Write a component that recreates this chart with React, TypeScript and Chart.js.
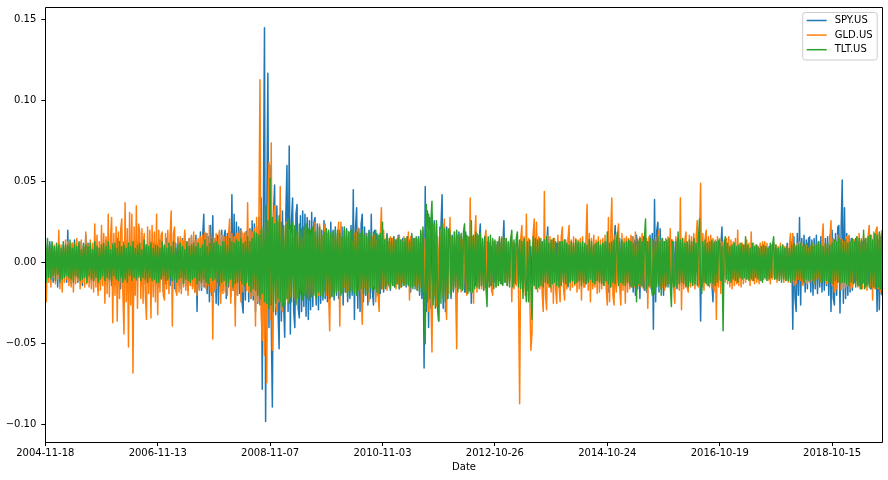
import React, { useEffect, useRef } from 'react';
import { Chart, registerables } from 'chart.js';

Chart.register(...registerables);

// x-axis tick labels (pandas places one every 500 trading days)
const TICK_LABELS = ['2004-11-18', '2006-11-13', '2008-11-07', '2010-11-03', '2012-10-26', '2014-10-24', '2016-10-19', '2018-10-15'];
const TICK_STEP = 500;      // trading days between x ticks
const SAMPLE_STEP = 5;      // trading days between the sampled returns below
const X_MAX = 3725;         // last trading-day index on the axis
const Y_TICKS = [-0.1, -0.05, 0, 0.05, 0.1, 0.15];
const Y_MIN = -0.1106;
const Y_MAX = 0.1574;

const SERIES_NAMES = ['SPY.US', 'GLD.US', 'TLT.US'];
const COLORS = ['#1f77b4', '#ff7f0e', '#2ca02c'];

// daily returns in per mille (0.001), one every SAMPLE_STEP trading days
const SPY = [
  8,-9,11,-6,13,-10,7,-12,9,-5,10,-15,12,-11,6,-9,11,-7,9,-12,
  20,-11,9,-13,12,-8,14,-10,8,-12,11,-9,13,-14,10,-8,17,-10,12,-9,
  10,-12,8,-11,13,-9,11,-17,9,-13,12,-10,8,-11,14,-9,10,-12,11,-14,
  12,-10,9,-13,15,-8,11,-16,10,-12,13,-11,9,-14,12,-10,11,-9,13,-12,
  9,-11,13,-9,10,-14,12,-10,16,-13,11,-12,10,-9,13,-11,12,-10,9,-13,
  11,-15,14,-10,12,-18,10,-13,15,-11,12,-14,11,-12,13,-16,12,-11,15,-13,
  13,-16,15,-12,18,-14,12,-17,15,-13,16,-15,14,-18,17,-30,13,-16,19,-17,
  16,30,-15,18,-19,16,-24,23,-20,29,-18,15,-25,17,-26,19,-18,20,-17,16,
  20,-22,18,-15,19,-21,42,-17,30,-26,25,-20,22,-19,21,-24,-31,18,-23,19,
  20,-24,21,-22,26,-23,24,-30,22,-25,28,-26,40,-78,30,145,-98,25,117,-40,
  60,-35,-89,30,48,-32,35,-28,-53,30,-36,32,-25,-46,30,60,-30,72,-44,26,
  40,-30,-40,30,36,-28,-34,29,-30,32,-27,30,-33,28,-35,26,-29,31,-27,25,
  28,-26,24,-29,22,-25,20,-23,26,-22,21,-24,19,-22,25,-21,20,-23,22,-20,
  18,-22,20,-19,22,-26,20,-18,21,-24,19,-22,23,-20,45,-35,22,34,-28,21,
  -30,24,30,-24,22,-20,18,-26,20,-22,30,-18,-26,20,-21,18,-20,17,-19,16,
  15,-18,14,-16,18,-14,13,-17,15,-12,16,-15,14,-13,17,-16,12,-14,15,-13,
  13,-15,16,-12,14,-18,17,-14,15,-16,13,-17,16,-20,18,-22,19,-65,47,-30,
  32,-40,28,-28,30,-24,26,-22,24,-28,-36,20,22,42,-28,24,-30,22,-22,20,
  20,-22,17,-18,16,-17,15,-16,19,-14,17,-15,16,-18,19,-13,15,-17,16,-25,
  15,-13,12,-14,18,-12,14,24,-14,13,-16,12,-15,13,-11,12,-14,10,-12,13,
  -12,11,-10,13,-11,12,-13,10,26,-12,10,-14,12,-9,11,-13,10,-12,11,-10,
  11,-13,9,-12,10,-15,13,-10,12,-14,11,-12,10,-13,12,-11,9,-12,13,-10,
  10,-11,13,-10,12,-12,11,22,-12,10,-16,12,-13,9,-11,12,-10,13,-11,10,
  12,-10,14,-12,11,-15,10,-12,13,-11,10,-13,12,-10,11,-12,13,-11,10,-12,
  9,-13,11,-10,15,-12,10,-14,12,-10,11,-12,13,-11,10,-13,12,-10,11,-12,
  13,-18,12,-15,11,-14,12,23,-16,14,-13,15,-17,12,-14,13,-12,15,-13,14,
  12,-15,16,-18,14,-20,17,-16,13,-22,15,-14,16,-17,14,-18,13,-15,17,-16,
  18,-41,39,-24,20,25,-18,21,-16,15,-20,13,-14,12,-15,11,-13,14,-12,13,
  -13,14,-16,15,-12,13,-14,12,-11,13,-15,12,-13,11,-14,13,-12,14,-11,12,
  12,-14,13,-36,14,-15,10,-12,13,-11,12,-13,10,-12,-24,13,11,-10,12,-11,
  -8,10,22,-12,9,-8,10,-7,8,-9,6,-8,9,-7,8,-10,7,-8,9,-6,
  8,-7,9,-10,6,-8,7,-6,9,-8,7,-9,8,-7,10,-6,8,-9,7,-10,
  7,-9,8,-7,10,-6,8,-9,7,-10,8,-7,9,-8,7,-9,10,-8,9,-10,
  12,-10,9,-11,13,-41,16,-22,-30,18,-20,28,-26,15,-13,17,-18,14,-16,15,
  16,-18,14,-20,15,-16,17,-19,13,-15,16,-18,14,-17,15,-14,16,-20,17,-30,
  20,-22,-26,18,-20,22,23,-31,20,51,-25,34,-22,18,-20,16,-18,15,-17,14,
  -12,15,-11,13,-14,12,-16,13,-12,14,-15,12,-13,21,-16,15,-14,13,-15,12,
  -30,14,-29,16,-20,
];

const GLD = [
  5,-24,10,-12,8,-15,12,-9,11,-13,7,-10,20,-16,11,-18,9,-12,14,-10,
  13,-14,10,-15,12,-18,9,-13,15,-11,12,-16,14,-12,10,-15,19,-13,11,-15,
  14,-16,12,-18,24,-15,17,-20,13,-17,23,-14,18,-25,16,-19,30,-21,15,28,
  -37,18,-20,22,-36,19,-22,20,27,-18,-44,37,-24,21,-52,31,-26,30,-68,22,
  -20,35,-28,24,19,-22,21,-25,18,-20,-35,22,-19,20,-34,23,-21,19,-24,30,
  -32,20,-18,17,19,-20,-23,18,-16,20,-19,17,32,-39,18,22,-17,-20,16,-18,
  16,-19,14,-15,20,-17,13,-20,15,-14,17,-16,19,-18,14,-20,15,-17,16,-15,
  17,-15,19,-16,18,-14,23,-18,16,-47,15,-17,18,-16,14,20,-25,17,-19,16,
  -18,16,-20,17,27,-25,18,-17,16,-39,18,-20,17,20,-24,19,-18,16,19,-17,
  37,-18,20,-22,19,-20,21,-39,28,-24,22,113,-30,-48,20,-57,25,-74,30,62,
  -35,74,-54,28,35,-26,-30,25,-24,47,-28,-30,22,-25,25,-22,-24,20,-21,18,
  18,20,-19,-25,17,-20,19,-16,15,-18,20,-17,16,-19,18,-22,17,-20,19,-18,
  25,-18,16,-20,24,-15,17,-19,16,24,-20,18,-17,-42,18,-16,15,-20,17,-18,
  16,25,-39,25,-16,14,-15,13,-18,16,-17,15,-14,13,-16,18,-15,17,22,-17,
  15,-16,-38,16,-15,18,-17,14,-24,13,-15,16,-14,17,-24,14,-18,-30,15,34,
  -16,20,-14,15,-17,13,-15,16,-12,15,-14,13,-16,15,-13,17,-15,14,-12,16,
  -14,15,-13,19,-23,16,-15,13,-14,15,-16,14,-13,12,-15,16,20,-18,15,-17,
  22,-30,20,-18,-55,24,-20,18,-27,16,-18,20,-16,19,-20,27,-18,-35,21,-19,
  28,-17,15,-16,19,-14,-53,17,-15,16,-18,14,-16,15,-14,-20,16,-15,40,-18,
  16,-25,14,29,-18,16,-15,18,-16,14,-17,15,20,-16,13,-15,14,-17,-20,13,
  13,-15,11,-14,15,-12,16,-13,14,-11,15,-14,13,-12,16,-24,13,-16,12,-14,
  14,-16,-87,15,23,-18,16,-20,30,-17,15,-19,-54,-43,18,27,-16,25,-18,16,
  -16,15,-18,-30,44,-20,-29,17,-15,16,-18,14,-25,15,-16,-25,17,-14,-24,16,
  22,-15,-23,14,-16,15,23,-17,14,-15,16,-14,15,-18,14,-16,15,-23,16,-15,
  -15,14,36,-17,18,-24,15,-16,17,-15,14,-19,16,-18,14,-16,15,-14,17,-16,
  -26,28,-24,18,40,-20,-26,17,-18,16,24,-15,-26,18,-17,15,-25,16,-18,15,
  -16,17,-14,16,-15,19,-17,15,-14,16,-15,18,-16,14,-17,15,-28,16,-15,14,
  -15,14,-18,16,-13,15,20,-16,14,-15,13,-17,15,-14,16,-13,21,-16,14,-15,
  -25,16,-14,15,-17,40,-29,15,-16,14,19,-15,-18,17,-15,16,-14,18,-16,15,
  26,-15,16,49,-16,18,-17,15,20,-14,16,-15,17,-16,15,-18,14,-35,16,-15,
  15,-19,13,-16,14,-12,15,-13,16,-15,14,-16,13,-14,15,-13,20,-14,12,-15,
  12,-13,11,-12,14,-10,12,-14,19,-11,12,-13,11,-12,10,-13,12,-11,13,-10,
  13,-10,12,-11,9,-13,11,-10,12,-9,11,-12,10,-11,12,-10,11,-12,10,-11,
  10,-12,11,18,-12,18,-14,11,-13,12,-10,13,-11,12,-14,10,-12,11,-13,9,
  -12,10,-11,12,-13,11,-10,12,-9,11,-12,13,24,-10,12,-13,11,-12,14,26,
  -14,15,-18,13,-16,17,-12,15,-17,14,-16,13,-15,16,-14,17,-16,13,-15,14,
  14,-13,16,-15,18,-14,15,-16,17,-13,15,-17,16,23,-15,17,-23,19,-16,20,
  22,-16,18,-18,20,
];

const TLT = [
  16,-12,15,-9,11,-10,13,-8,10,-11,12,-7,11,-12,9,-10,13,-9,11,-8,
  11,-9,14,-10,9,-12,12,-8,10,-9,13,-11,8,-10,12,-9,11,-12,10,-8,
  12,-10,8,-11,13,-9,10,-12,9,-10,11,-8,12,-11,10,-9,13,-10,8,-11,
  11,-8,12,-10,9,-11,13,-9,10,-12,11,-10,9,-12,12,-8,10,-11,13,-9,
  9,-10,11,-8,12,-11,8,-9,14,-10,11,-12,10,-9,12,-11,9,-10,11,-12,
  10,-12,9,-10,13,-8,11,-11,9,-10,12,-9,10,-11,13,-10,9,-12,11,-10,
  12,-9,10,-13,8,-10,13,-11,10,-12,11,-10,12,-9,10,-13,12,-11,9,-12,
  11,-10,14,-12,10,-13,12,-9,15,-11,12,-10,13,-12,11,-14,10,-12,13,-11,
  13,-14,11,-12,15,-10,13,-15,12,-13,14,-12,13,-11,15,-13,12,-14,13,-12,
  16,-14,13,-18,15,-16,19,-17,18,-20,17,-22,20,-19,22,-24,35,-25,26,-28,
  52,-26,28,-30,24,-25,26,-22,29,-24,25,-27,23,-26,24,-22,27,-25,23,-24,
  25,-21,23,-26,20,-22,24,-19,21,-23,22,-20,24,-22,21,-23,20,-21,22,-20,
  19,-22,20,-18,22,-20,17,-21,19,-18,21,-19,20,-22,18,-20,19,-21,20,-18,
  20,-17,18,-20,16,-19,22,-18,20,-21,19,-18,20,-17,21,-19,18,-20,19,-17,
  18,-16,20,-19,17,-20,16,-18,19,-15,18,-17,19,-16,20,-18,17,-19,18,-16,
  25,-16,14,-15,17,-13,15,-16,13,-14,16,-15,14,-13,15,-16,14,-15,13,-14,
  15,-13,16,-14,13,-15,18,-16,15,-14,16,-17,15,-18,20,-19,22,-18,-50,36,
  -24,30,-22,25,38,-26,24,-28,26,-22,-36,22,-25,24,-22,21,-24,20,-22,21,
  18,-20,16,-17,19,-15,20,-18,17,-16,18,-17,19,24,-18,17,-19,16,-18,26,
  -18,17,-16,19,-15,17,-16,18,-14,15,-17,16,-15,-27,16,-15,17,-14,15,-16,
  14,-15,13,-14,16,-13,15,-14,16,-12,15,-14,13,-15,14,20,-15,14,-13,15,
  19,-15,14,-16,13,-22,15,-14,-24,13,-24,14,-15,-35,16,-14,15,-16,14,-15,
  15,-14,13,-15,14,-12,16,-13,12,-15,14,-13,15,-12,13,-14,12,-15,13,-14,
  13,-12,14,-13,12,-14,11,-12,13,-11,12,-13,14,-12,13,-11,12,-14,13,-12,
  12,-13,11,-12,14,-10,13,-12,11,-13,12,-11,13,-12,11,-13,12,-14,13,-11,
  19,-13,12,-15,13,-12,14,-13,12,19,-14,13,-12,14,-13,12,-14,13,-12,14,
  -14,13,-15,12,-14,13,-24,14,-13,15,-14,13,-15,14,27,-16,13,-14,15,-13,
  -20,14,-19,13,-15,16,-14,13,-20,15,-14,13,-15,14,-13,15,-14,-27,13,-15,
  -14,13,-15,19,-13,14,-12,15,-13,12,-14,13,-15,14,-12,13,-14,15,-13,12,
  -14,13,27,-13,-19,13,-12,14,-13,12,-14,13,-12,14,-13,12,-14,13,-12,14,
  12,-11,10,-42,11,16,-10,12,-11,10,-12,11,-10,12,-11,10,-12,11,-9,12,
  -10,11,-9,16,-10,11,-11,9,-10,12,-11,10,-9,11,-10,9,-11,10,-12,11,
  -9,10,-11,9,-10,12,-9,11,16,-10,11,-10,9,-11,10,-12,11,-10,9,-11,
  10,-11,9,-12,11,-10,12,-11,10,-9,11,-10,12,-11,10,-12,11,-10,12,-11,
  11,-10,12,-11,10,-13,11,-10,13,-12,11,-12,10,-11,12,-11,13,-12,11,-12,
  12,-13,14,-11,13,-12,15,-13,14,-12,13,-12,14,-13,12,-14,13,-12,15,-13,
  13,-15,16,-14,15,-16,14,-13,20,-16,15,-14,16,-15,17,-16,14,-15,18,-16,
  17,-15,19,-16,18,
];

const SERIES = [SPY, GLD, TLT];
const FONT_FAMILY = '"DejaVu Sans", sans-serif';
const TEXT_COLOR = '#000000';

const fmtY = (v: number) => {
  const s = Math.abs(v).toFixed(2);
  return v < -1e-9 ? '\u2212' + s : s;
};

const framePlugin = {
  id: 'mplFrame',
  afterDatasetsDraw(chart: any) {
    const { ctx, chartArea } = chart;
    const l = Math.floor(chartArea.left) + 0.5;
    const t = Math.floor(chartArea.top) + 0.5;
    const r = Math.floor(chartArea.right) + 0.5;
    const b = Math.floor(chartArea.bottom) + 0.5;
    ctx.save();
    ctx.strokeStyle = '#000000';
    ctx.lineWidth = 1;
    ctx.beginPath();
    ctx.rect(l, t, r - l, b - t);
    ctx.stroke();
    ctx.restore();
  },
};

const legendPlugin = {
  id: 'mplLegend',
  afterDraw(chart: any) {
    const { ctx, chartArea } = chart;
    const bw = 74.5;
    const bh = 47.5;
    const bx = chartArea.right - 5.5 - bw;
    const by = chartArea.top + 4.8;
    ctx.save();
    ctx.beginPath();
    const rad = 2.5;
    ctx.moveTo(bx + rad, by);
    ctx.lineTo(bx + bw - rad, by);
    ctx.arcTo(bx + bw, by, bx + bw, by + rad, rad);
    ctx.lineTo(bx + bw, by + bh - rad);
    ctx.arcTo(bx + bw, by + bh, bx + bw - rad, by + bh, rad);
    ctx.lineTo(bx + rad, by + bh);
    ctx.arcTo(bx, by + bh, bx, by + bh - rad, rad);
    ctx.lineTo(bx, by + rad);
    ctx.arcTo(bx, by, bx + rad, by, rad);
    ctx.closePath();
    ctx.fillStyle = 'rgba(255,255,255,0.8)';
    ctx.fill();
    ctx.strokeStyle = '#cccccc';
    ctx.lineWidth = 1;
    ctx.stroke();
    ctx.font = '10px ' + FONT_FAMILY;
    ctx.textBaseline = 'middle';
    ctx.textAlign = 'left';
    SERIES_NAMES.forEach((name, k) => {
      const y = by + 8 + k * 14.6;
      ctx.strokeStyle = COLORS[k];
      ctx.lineWidth = 1.5;
      ctx.beginPath();
      ctx.moveTo(bx + 4, y);
      ctx.lineTo(bx + 24, y);
      ctx.stroke();
      ctx.fillStyle = TEXT_COLOR;
      ctx.fillText(name, bx + 32, y);
    });
    ctx.restore();
  },
};

export default function App() {
  const canvasRef = useRef<HTMLCanvasElement | null>(null);

  useEffect(() => {
    const canvas = canvasRef.current;
    if (!canvas) return;
    Chart.defaults.font.family = FONT_FAMILY;
    Chart.defaults.font.size = 10;
    Chart.defaults.color = TEXT_COLOR;

    const datasets = SERIES.map((vals, k) => ({
      label: SERIES_NAMES[k],
      data: vals.map((v, i) => ({ x: i * SAMPLE_STEP, y: v / 1000 })),
      borderColor: COLORS[k],
      backgroundColor: COLORS[k],
      borderWidth: 1.5,
      pointRadius: 0,
      tension: 0,
      fill: false,
      borderJoinStyle: 'round' as const,
      order: SERIES.length - k,
    }));

    const chart = new Chart(canvas, {
      type: 'line',
      data: { datasets },
      options: {
        animation: false,
        responsive: false,
        maintainAspectRatio: false,
        events: [],
        layout: { padding: { left: 0, right: 5.3, top: 7.7, bottom: 0 } },
        plugins: { legend: { display: false }, tooltip: { enabled: false }, title: { display: false } },
        scales: {
          x: {
            type: 'linear',
            min: 0,
            max: X_MAX,
            afterBuildTicks: (scale: any) => {
              scale.ticks = TICK_LABELS.map((_, k) => ({ value: k * TICK_STEP }));
            },
            afterFit: (scale: any) => {
              scale.height = 38;
              scale.paddingLeft = 0;
              scale.paddingRight = 0;
            },
            ticks: {
              autoSkip: false,
              maxRotation: 0,
              minRotation: 0,
              padding: 1,
              color: TEXT_COLOR,
              font: { size: 10, family: FONT_FAMILY },
              callback: (v: any) => TICK_LABELS[Math.round(Number(v) / TICK_STEP)] ?? '',
            },
            grid: { drawOnChartArea: false, drawTicks: true, tickLength: 4, color: '#000000', lineWidth: 1 },
            border: { display: false },
            title: {
              display: true,
              text: 'Date',
              color: TEXT_COLOR,
              font: { size: 10, family: FONT_FAMILY },
              padding: { top: 0, bottom: 7 },
            },
          },
          y: {
            type: 'linear',
            min: Y_MIN,
            max: Y_MAX,
            afterBuildTicks: (scale: any) => {
              scale.ticks = Y_TICKS.map((v) => ({ value: v }));
            },
            afterFit: (scale: any) => {
              scale.width = 45.3;
              scale.paddingTop = 0;
              scale.paddingBottom = 0;
            },
            ticks: {
              padding: 5,
              color: TEXT_COLOR,
              font: { size: 10, family: FONT_FAMILY },
              callback: (v: any) => fmtY(Number(v)),
            },
            grid: { drawOnChartArea: false, drawTicks: true, tickLength: 4, color: '#000000', lineWidth: 1 },
            border: { display: false },
          },
        },
      },
      plugins: [framePlugin, legendPlugin],
    });

    return () => {
      chart.destroy();
    };
  }, []);

  return (
    <div style={{ position: 'fixed', left: 0, top: 0, width: 888, height: 480, background: '#ffffff' }}>
      <canvas ref={canvasRef} width={888} height={480} style={{ display: 'block', width: 888, height: 480 }} />
    </div>
  );
}
